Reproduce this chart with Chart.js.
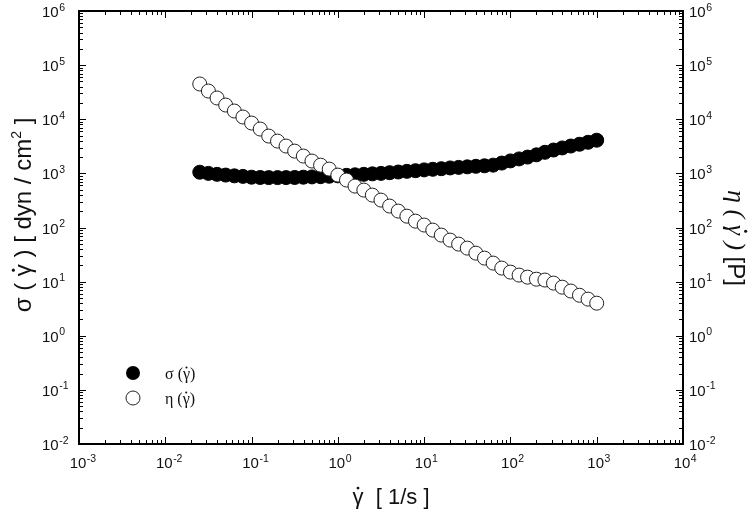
<!DOCTYPE html>
<html>
<head>
<meta charset="utf-8">
<script src="https://cdn.jsdelivr.net/npm/chart.js@4.4.0/dist/chart.umd.min.js"></script>
<style>
    html, body { margin: 0; padding: 0; background: #fff; }
    #wrap { width: 754px; height: 519px; }
</style>
</head>
<body>
<div id="wrap"><canvas id="flowChart" width="754" height="519"></canvas></div>
<script>
// shear rate [1/s]
const shearRate = [0.0251, 0.0316, 0.0398, 0.0501, 0.0631, 0.0794,
    0.1, 0.126, 0.158, 0.2, 0.251, 0.316, 0.398, 0.501, 0.631, 0.794,
    1, 1.26, 1.58, 2, 2.51, 3.16, 3.98, 5.01, 6.31, 7.94,
    10, 12.6, 15.8, 20, 25.1, 31.6, 39.8, 50.1, 63.1, 79.4,
    100, 126, 158, 200, 251, 316, 398, 501, 631, 794, 1000];

// shear stress sigma [dyn/cm2]
const stress = [1050, 1000, 960, 930, 900, 880,
    850, 840, 835, 835, 835, 840, 850, 860, 870, 885,
    900, 920, 940, 960, 980, 1000, 1030, 1060, 1090, 1120,
    1160, 1190, 1220, 1260, 1290, 1320, 1350, 1380, 1420, 1550,
    1700, 1850, 2000, 2200, 2450, 2700, 2950, 3200, 3450, 3750, 4100];

// viscosity eta [P]
const viscosity = [44800, 33200, 24700, 18300, 14200, 11000,
    8510, 6590, 4890, 3950, 3200, 2580, 2090, 1690, 1420, 1200,
    930, 752, 582, 491, 397, 321, 249, 201, 162, 131,
    111, 89.5, 72.4, 58.5, 49.3, 41.6, 33.6, 27.2, 22.0, 17.8,
    15.0, 13.2, 12.1, 11.1, 10.7, 9.4, 7.9, 6.7, 5.6, 4.75, 4.0];

// tick labels (powers of ten)
const xTickExps = [-3, -2, -1, 0, 1, 2, 3, 4];
const yTickExps = [-2, -1, 0, 1, 2, 3, 4, 5, 6];

const SANS = '"Liberation Sans", Arial, sans-serif';
const SERIF = '"Liberation Serif", "Times New Roman", serif';
const G = '\u03B3'; // gamma, drawn with a dot on top

function toPoints(xs, ys) {
    return xs.map((x, i) => ({ x: x, y: ys[i] }));
}

// draws "10" with a raised exponent
function drawPow(ctx, exp, x, y, align) {
    ctx.font = '15px ' + SANS;
    const wb = ctx.measureText('10').width;
    let x0 = x;
    if (align === 'center') x0 = x - wb / 2 - 1;
    ctx.textAlign = 'left';
    ctx.textBaseline = 'alphabetic';
    ctx.fillText('10', x0, y);
    ctx.font = '10.5px ' + SANS;
    ctx.fillText(String(exp), x0 + wb + 0.5, y - 6.5);
}

// text run list: [{t, font}], every gamma gets a dot above it
function runWidth(ctx, runs) {
    let w = 0;
    runs.forEach(r => { ctx.font = r.font; w += ctx.measureText(r.t).width; });
    return w;
}

function drawRuns(ctx, runs, x, y, size) {
    ctx.textAlign = 'left';
    ctx.textBaseline = 'alphabetic';
    let cx = x;
    runs.forEach(r => {
        ctx.font = r.font;
        const ry = r.sup ? y - size * 0.42 : y;
        ctx.fillText(r.t, cx, ry);
        // dot over each gamma
        let idx = r.t.indexOf(G);
        while (idx >= 0) {
            const before = ctx.measureText(r.t.slice(0, idx)).width;
            const gw = ctx.measureText(G).width;
            ctx.beginPath();
            ctx.arc(cx + before + gw / 2 + (r.italic ? size * 0.06 : 0), ry - size * 0.72, size * 0.065, 0, Math.PI * 2);
            ctx.fill();
            idx = r.t.indexOf(G, idx + 1);
        }
        cx += ctx.measureText(r.t).width;
    });
}

function drawCentered(ctx, runs, cx, cy, angle, size) {
    ctx.save();
    ctx.translate(cx, cy);
    ctx.rotate(angle);
    const w = runWidth(ctx, runs);
    drawRuns(ctx, runs, -w / 2, size * 0.36, size);
    ctx.restore();
}

// frame, inward ticks, labels, titles, legend
const framePlugin = {
    id: 'frame',
    afterDraw(chart) {
        const ctx = chart.ctx;
        const a = chart.chartArea;
        const xs = chart.scales.x;
        const ys = chart.scales.y;
        ctx.save();
        ctx.strokeStyle = '#000';
        ctx.fillStyle = '#111';

        // ticks
        ctx.lineWidth = 1;
        ctx.beginPath();
        for (let d = xTickExps[0]; d <= xTickExps[xTickExps.length - 1]; d++) {
            for (let m = 1; m <= 9; m++) {
                const v = m * Math.pow(10, d);
                if (v > xs.max * 1.0001) break;
                const px = Math.round(xs.getPixelForValue(v)) + 0.5;
                const len = m === 1 ? 7 : 4;
                ctx.moveTo(px, a.bottom); ctx.lineTo(px, a.bottom - len);
                ctx.moveTo(px, a.top); ctx.lineTo(px, a.top + len);
            }
        }
        for (let d = yTickExps[0]; d <= yTickExps[yTickExps.length - 1]; d++) {
            for (let m = 1; m <= 9; m++) {
                const v = m * Math.pow(10, d);
                if (v > ys.max * 1.0001) break;
                const py = Math.round(ys.getPixelForValue(v)) + 0.5;
                const len = m === 1 ? 7 : 4;
                ctx.moveTo(a.left, py); ctx.lineTo(a.left + len, py);
                ctx.moveTo(a.right, py); ctx.lineTo(a.right - len, py);
            }
        }
        ctx.stroke();

        // frame
        ctx.lineWidth = 2;
        ctx.strokeRect(a.left, a.top, a.right - a.left, a.bottom - a.top);

        // tick labels
        xTickExps.forEach(e => {
            drawPow(ctx, e, xs.getPixelForValue(Math.pow(10, e)), a.bottom + 24, 'center');
        });
        yTickExps.forEach(e => {
            const py = ys.getPixelForValue(Math.pow(10, e));
            drawPow(ctx, e, 42, py + 6, 'left');
            drawPow(ctx, e, a.right + 6, py + 6, 'left');
        });

        // x title
        const fx = '22px ' + SANS;
        drawCentered(ctx, [{ t: G + '  [ 1/s ]', font: fx }], (a.left + a.right) / 2 + 10, 496, 0, 22);

        // left title
        const fy = '24px ' + SANS;
        drawCentered(ctx, [{ t: '\u03C3 ( ' + G + ' ) [ dyn / cm', font: fy },
                           { t: '2', font: '14px ' + SANS, sup: true },
                           { t: ' ]', font: fy }], 22, 215, -Math.PI / 2, 24);

        // right title
        drawCentered(ctx, [{ t: '\u03B7 ( ' + G + ' ) ', font: 'italic 26px ' + SERIF, italic: true },
                           { t: '[P]', font: '24px ' + SANS }], 737, 238, Math.PI / 2, 24);

        // legend
        ctx.lineWidth = 1;
        ctx.beginPath();
        ctx.arc(133, 373, 7, 0, Math.PI * 2);
        ctx.fillStyle = '#000';
        ctx.fill();
        ctx.beginPath();
        ctx.arc(133, 398, 7, 0, Math.PI * 2);
        ctx.fillStyle = '#fff';
        ctx.fill();
        ctx.strokeStyle = '#222';
        ctx.stroke();
        ctx.fillStyle = '#111';
        const fl = '16px ' + SERIF;
        drawRuns(ctx, [{ t: '\u03C3 (' + G + ')', font: fl }], 165, 379, 16);
        drawRuns(ctx, [{ t: '\u03B7 (' + G + ')', font: fl }], 165, 404, 16);

        ctx.restore();
    }
};

const ctx = document.getElementById('flowChart').getContext('2d');
new Chart(ctx, {
    type: 'scatter',
    data: {
        datasets: [{
            label: '\u03C3',
            data: toPoints(shearRate, stress),
            yAxisID: 'y',
            pointRadius: 7,
            pointBackgroundColor: '#000',
            pointBorderColor: '#000',
            pointBorderWidth: 1,
            order: 2
        }, {
            label: '\u03B7',
            data: toPoints(shearRate, viscosity),
            yAxisID: 'y2',
            pointRadius: 7,
            pointBackgroundColor: '#fff',
            pointBorderColor: '#222',
            pointBorderWidth: 1,
            order: 1
        }]
    },
    options: {
        responsive: false,
        animation: false,
        layout: { padding: { left: 79, right: 71, top: 11, bottom: 75 } },
        plugins: {
            legend: { display: false },
            tooltip: { enabled: false }
        },
        scales: {
            x: { type: 'logarithmic', min: 0.001, max: 10000, display: false },
            y: { type: 'logarithmic', min: 0.01, max: 1000000, display: false },
            y2: { type: 'logarithmic', min: 0.01, max: 1000000, display: false, position: 'right' }
        }
    },
    plugins: [framePlugin]
});
</script>
</body>
</html>
